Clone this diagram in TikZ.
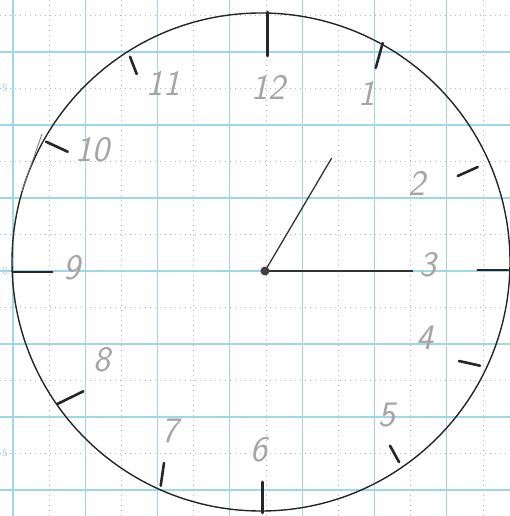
\documentclass[tikz,border=0pt]{standalone}
\usepackage{xcolor}
\usepackage{tikz}

\definecolor{gridblue}{RGB}{160,214,234}
\definecolor{pencil}{RGB}{165,165,165}
\tikzset{
  major/.style={gridblue,line width=1.1bp},
  minor/.style={black!28,line width=0.7bp,dash pattern=on 0.7bp off 4.3bp},
  tick/.style={black!85,line width=2.6bp,line cap=round},
  hand/.style={black!80,line width=1.3bp},
  numeral/.style={text=pencil,font=\fontsize{36}{36}\selectfont\sffamily\slshape,inner sep=0pt},
  scalelbl/.style={text=gridblue,font=\fontsize{11}{11}\selectfont\sffamily,inner sep=0pt}
}

\begin{document}
\begin{tikzpicture}[x=1bp,y=-1bp]
  \useasboundingbox (0,0) rectangle (510,516);
  \fill[white] (0,0) rectangle (510,516);
  % graph paper
  \foreach \k in {0,...,6} {
    \draw[minor] ({49.2+72.3*\k},0) -- ({49.2+72.3*\k},516);
    \draw[minor] (0,{15.5+73*\k}) -- (510,{15.5+73*\k});
  }
  \foreach \k in {0,...,6} {
    \draw[major] ({13+72.3*\k},0) -- ({13+72.3*\k},516);
    \draw[major] (0,{52+73*\k}) -- (510,{52+73*\k});
  }
  \node[scalelbl] (s5a) at (5,88) {5};
  \node[scalelbl] (s0) at (5,271) {0};
  \node[scalelbl] (s5b) at (5,453) {5};

  % dial
  \coordinate (c) at (261,262);
  \draw[black!85,line width=1.4bp] (c) circle (249);
  \foreach \xa/\ya/\xb/\yb in {267.7/12/267.7/56, 382.7/43/375.7/68,
      477.7/167/457.7/176, 477.7/270/508/270, 459/361/480/365.7,
      390/445.7/399/462, 262.3/482/262.3/513, 164/463/160.7/485.7,
      57.3/404/83.3/391.3, 13.3/272/52.3/272, 46/141.7/67.7/151.7,
      130/56.7/136.7/74}
    \draw[tick] (\xa,\ya) -- (\xb,\yb);
  \draw[black!55,line width=0.8bp] (42,134) -- (22,191);

  % numerals
  \node[numeral] (n12) at (268,87) {12};
  \node[numeral] (n1) at (367,93) {1};
  \node[numeral] (n2) at (417,183) {2};
  \node[numeral] (n3) at (428,265) {3};
  \node[numeral] (n4) at (425,338) {4};
  \node[numeral] (n5) at (387,415) {5};
  \node[numeral] (n6) at (259,450) {6};
  \node[numeral] (n7) at (170,431) {7};
  \node[numeral] (n8) at (102,360) {8};
  \node[numeral] (n9) at (72,268) {9};
  \node[numeral] (n10) at (92,150) {10};
  \node[numeral] (n11) at (163,83) {11};

  % hands
  \coordinate (hub) at (265,271);
  \coordinate (hr) at (331.7,158);
  \coordinate (mn) at (413,271);
  \draw[hand] (hub) -- (hr);
  \draw[hand,line width=1.6bp] (hub) -- (mn);
  \fill[black!75] (hub) circle (4.5);
\end{tikzpicture}
\end{document}
